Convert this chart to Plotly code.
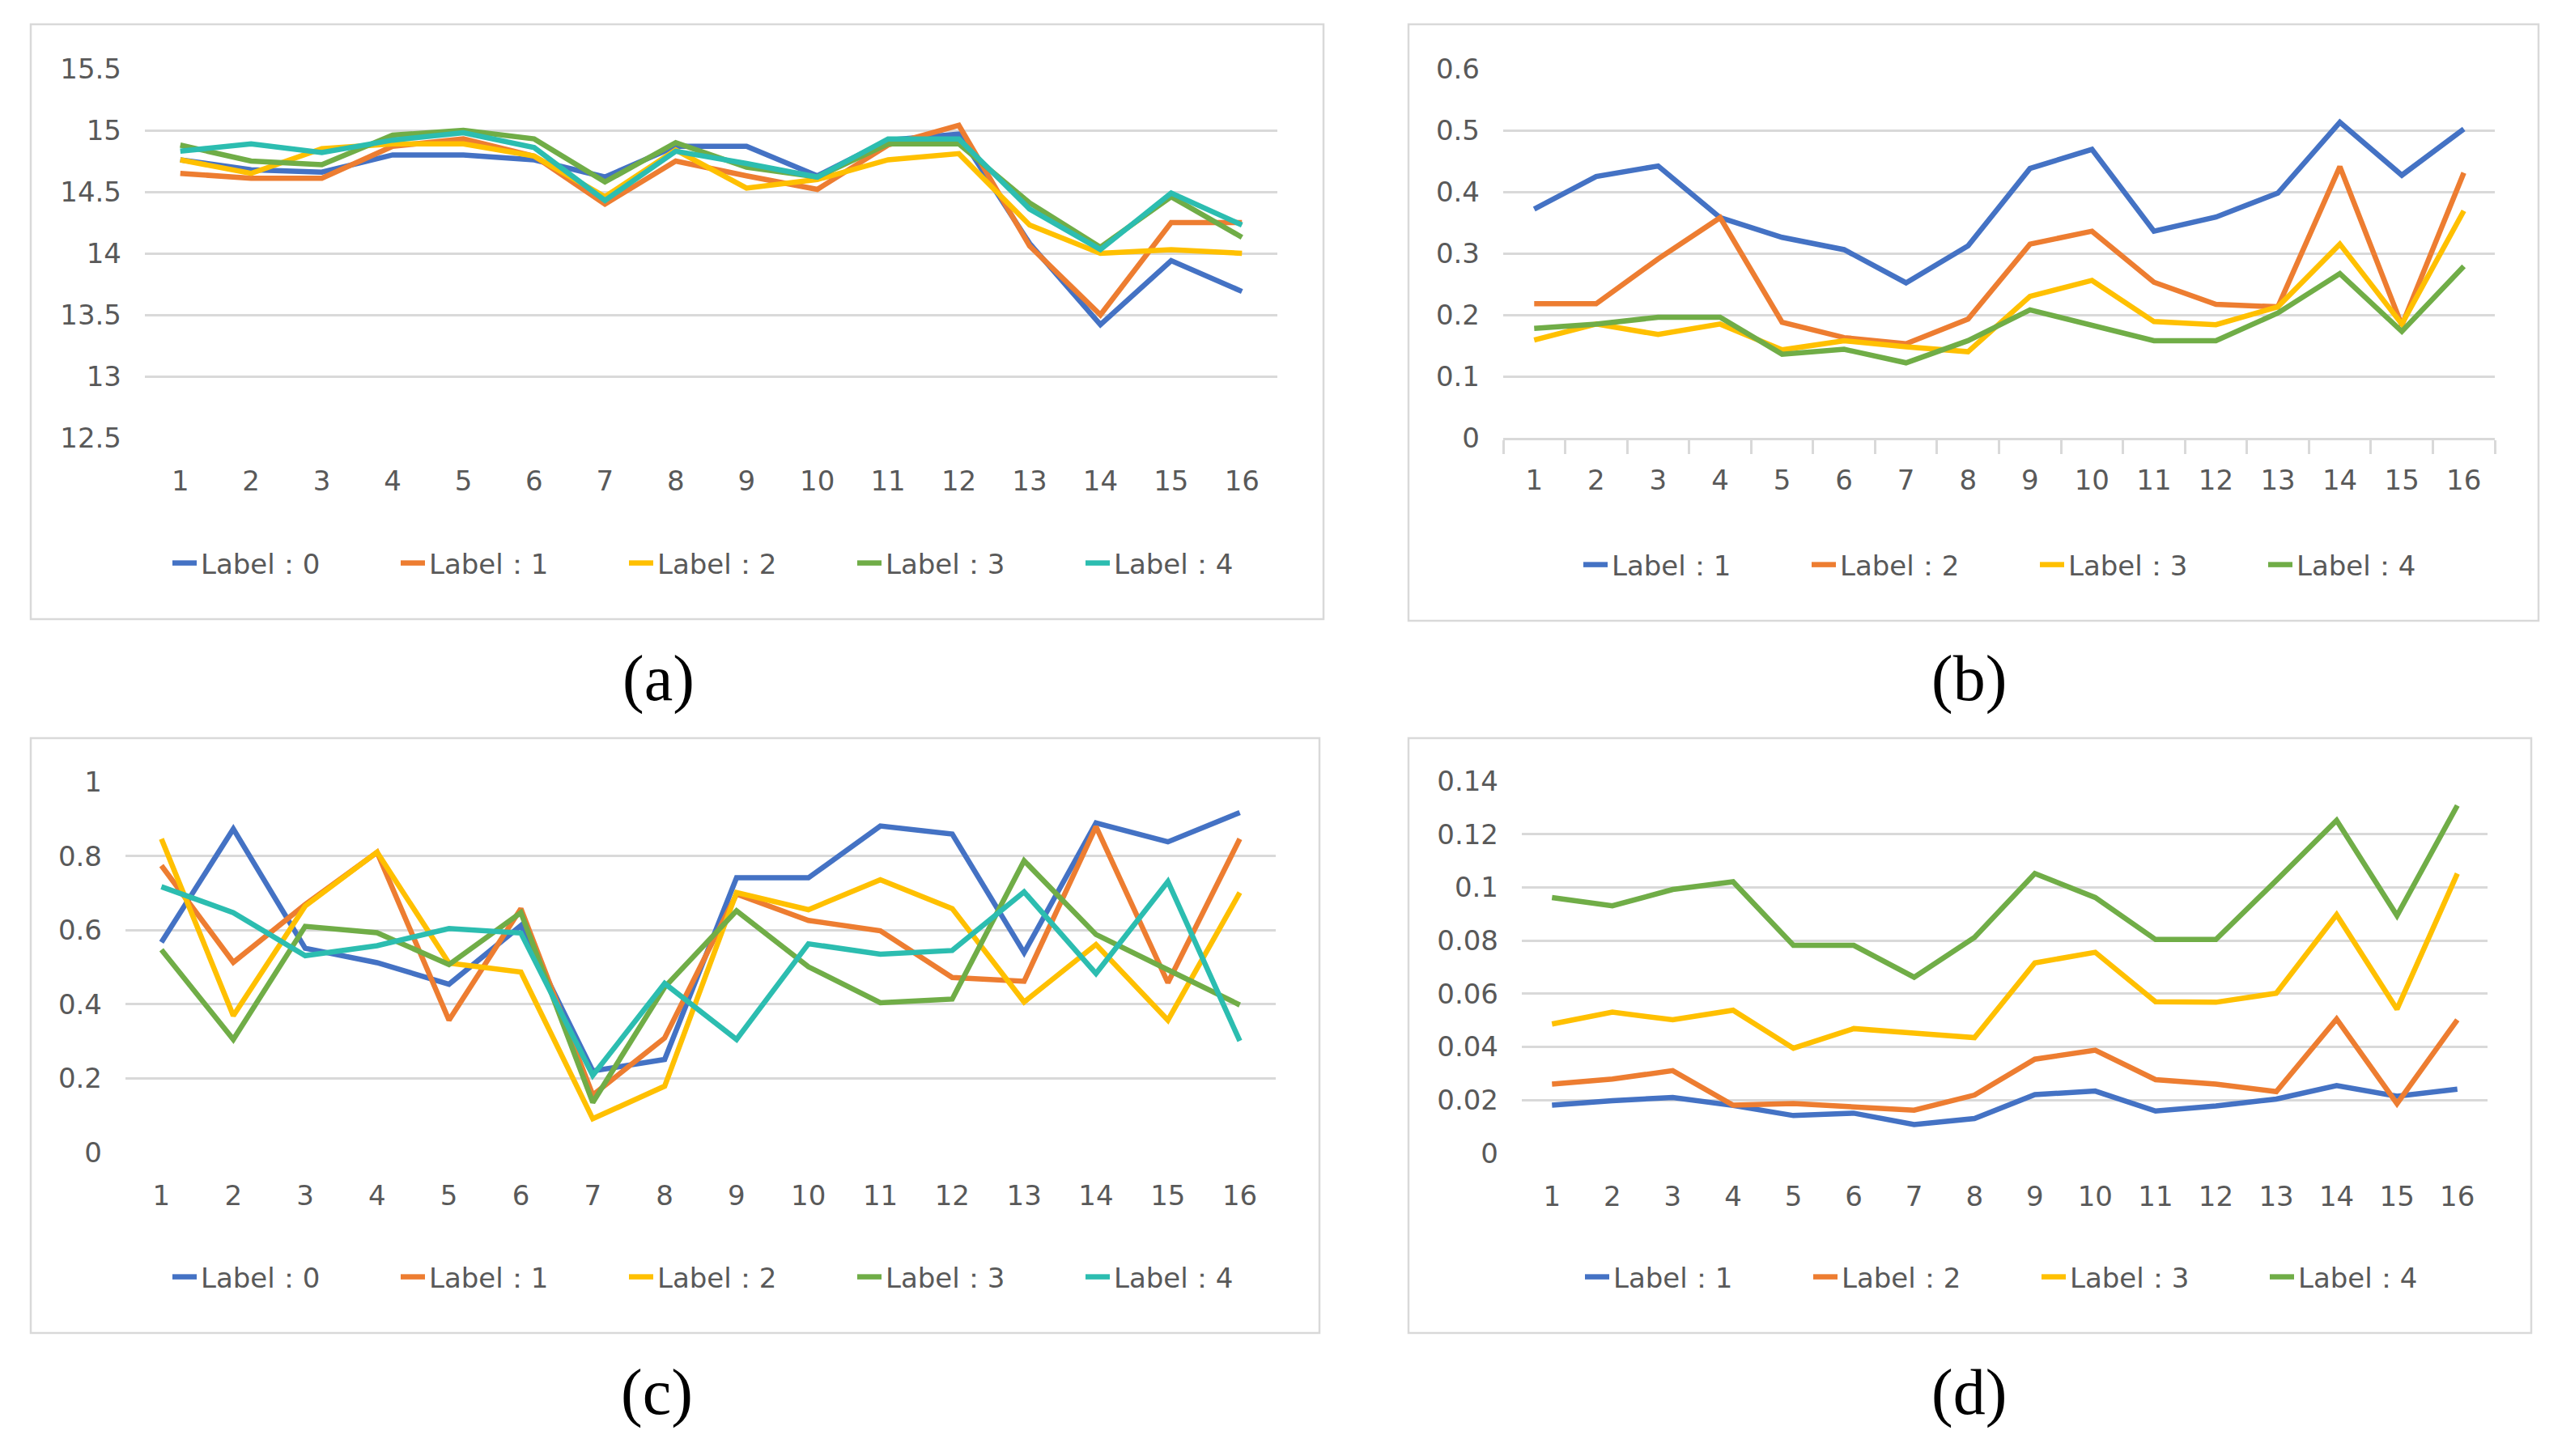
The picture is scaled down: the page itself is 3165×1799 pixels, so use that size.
import plotly.graph_objects as go

W, H = 3165, 1799

categories = [str(i) for i in range(1, 17)]

# Panel (a)
a_label0 = [14.76, 14.68, 14.66, 14.80, 14.80, 14.76, 14.62, 14.87, 14.87, 14.63, 14.92, 14.97, 14.08, 13.42, 13.94, 13.69]
a_label1 = [14.65, 14.61, 14.61, 14.87, 14.93, 14.79, 14.40, 14.75, 14.63, 14.52, 14.88, 15.04, 14.06, 13.50, 14.25, 14.25]
a_label2 = [14.76, 14.65, 14.85, 14.89, 14.89, 14.79, 14.46, 14.84, 14.53, 14.60, 14.76, 14.81, 14.23, 14.00, 14.03, 14.00]
a_label3 = [14.88, 14.75, 14.72, 14.96, 15.00, 14.93, 14.58, 14.90, 14.70, 14.62, 14.89, 14.89, 14.41, 14.05, 14.46, 14.13]
a_label4 = [14.83, 14.89, 14.82, 14.92, 14.98, 14.86, 14.43, 14.83, 14.73, 14.62, 14.93, 14.93, 14.36, 14.03, 14.49, 14.23]
a_ticks = [12.5, 13, 13.5, 14, 14.5, 15, 15.5]
a_ticktext = ["12.5", "13", "13.5", "14", "14.5", "15", "15.5"]

# Panel (b)
b_label1 = [0.372, 0.425, 0.442, 0.358, 0.326, 0.306, 0.252, 0.312, 0.438, 0.469, 0.336, 0.359, 0.398, 0.513, 0.427, 0.502]
b_label2 = [0.218, 0.218, 0.291, 0.358, 0.188, 0.163, 0.153, 0.193, 0.315, 0.336, 0.253, 0.217, 0.213, 0.441, 0.183, 0.431]
b_label3 = [0.159, 0.185, 0.168, 0.185, 0.143, 0.158, 0.148, 0.140, 0.230, 0.256, 0.189, 0.184, 0.213, 0.315, 0.185, 0.369]
b_label4 = [0.178, 0.185, 0.196, 0.196, 0.136, 0.144, 0.122, 0.158, 0.208, 0.183, 0.158, 0.158, 0.203, 0.267, 0.173, 0.279]
b_ticks = [0, 0.1, 0.2, 0.3, 0.4, 0.5, 0.6]
b_ticktext = ["0", "0.1", "0.2", "0.3", "0.4", "0.5", "0.6"]

# Panel (c)
c_label0 = [0.567, 0.873, 0.551, 0.512, 0.454, 0.612, 0.220, 0.251, 0.741, 0.741, 0.881, 0.859, 0.539, 0.889, 0.838, 0.917]
c_label1 = [0.774, 0.513, 0.669, 0.810, 0.357, 0.658, 0.155, 0.309, 0.697, 0.626, 0.598, 0.472, 0.462, 0.879, 0.458, 0.846]
c_label2 = [0.846, 0.369, 0.665, 0.810, 0.511, 0.487, 0.091, 0.179, 0.701, 0.655, 0.736, 0.658, 0.406, 0.561, 0.357, 0.701]
c_label3 = [0.547, 0.305, 0.610, 0.593, 0.507, 0.647, 0.135, 0.446, 0.652, 0.501, 0.404, 0.414, 0.787, 0.588, 0.493, 0.398]
c_label4 = [0.717, 0.647, 0.531, 0.558, 0.604, 0.592, 0.208, 0.456, 0.305, 0.563, 0.535, 0.545, 0.703, 0.483, 0.731, 0.301]
c_ticks = [0, 0.2, 0.4, 0.6, 0.8, 1]
c_ticktext = ["0", "0.2", "0.4", "0.6", "0.8", "1"]

# Panel (d)
d_label1 = [0.0181, 0.0198, 0.0210, 0.0180, 0.0142, 0.0151, 0.0108, 0.0131, 0.0221, 0.0234, 0.0159, 0.0178, 0.0204, 0.0255, 0.0215, 0.0241]
d_label2 = [0.0260, 0.0279, 0.0311, 0.0181, 0.0187, 0.0176, 0.0162, 0.0219, 0.0354, 0.0388, 0.0277, 0.0260, 0.0232, 0.0505, 0.0187, 0.0502]
d_label3 = [0.0486, 0.0531, 0.0502, 0.0538, 0.0395, 0.0469, 0.0452, 0.0435, 0.0716, 0.0756, 0.0570, 0.0568, 0.0602, 0.0897, 0.0542, 0.1052]
d_label4 = [0.0962, 0.0931, 0.0992, 0.1021, 0.0782, 0.0782, 0.0662, 0.0812, 0.1052, 0.0962, 0.0804, 0.0804, 0.1026, 0.1252, 0.0894, 0.1308]
d_ticks = [0, 0.02, 0.04, 0.06, 0.08, 0.1, 0.12, 0.14]
d_ticktext = ["0", "0.02", "0.04", "0.06", "0.08", "0.1", "0.12", "0.14"]

BLUE, ORANGE, GOLD, GREEN, TEAL = "#4472C4", "#ED7D31", "#FFC000", "#70AD47", "#2CBDB0"
TICKFONT = dict(family="DejaVu Sans", size=34, color="#595959")
GRID = "#D9D9D9"


def px(x):
    return x / W


def py(y):
    return 1 - y / H


fig = go.Figure()

panels = [
    ("", [a_label0, a_label1, a_label2, a_label3, a_label4], ["Label：0", "Label：1", "Label：2", "Label：3", "Label：4"],
     [BLUE, ORANGE, GOLD, GREEN, TEAL], "legend"),
    ("2", [b_label1, b_label2, b_label3, b_label4], ["Label：1", "Label：2", "Label：3", "Label：4"],
     [BLUE, ORANGE, GOLD, GREEN], "legend2"),
    ("3", [c_label0, c_label1, c_label2, c_label3, c_label4], ["Label：0", "Label：1", "Label：2", "Label：3", "Label：4"],
     [BLUE, ORANGE, GOLD, GREEN, TEAL], "legend3"),
    ("4", [d_label1, d_label2, d_label3, d_label4], ["Label：1", "Label：2", "Label：3", "Label：4"],
     [BLUE, ORANGE, GOLD, GREEN], "legend4"),
]

for suffix, series, names, colors, leg in panels:
    for vals, name, col in zip(series, names, colors):
        fig.add_trace(go.Scatter(
            x=categories, y=vals, name=name, mode="lines",
            line=dict(color=col, width=6.5),
            xaxis="x" + suffix, yaxis="y" + suffix, legend=leg,
        ))

# plot-area domains in pixels (left, right, top, bottom)
areas = {
    "": (179, 1578, 85, 541),
    "2": (1857, 3082, 85, 541),
    "3": (155, 1576, 966, 1424),
    "4": (1880, 3073, 965, 1425),
}
yspecs = {
    "": ([12.5, 15.5], a_ticks, a_ticktext),
    "2": ([0, 0.6], b_ticks, b_ticktext),
    "3": ([0, 1], c_ticks, c_ticktext),
    "4": ([0, 0.14], d_ticks, d_ticktext),
}

layout = dict(
    width=W, height=H, margin=dict(l=0, r=0, t=0, b=0, autoexpand=False),
    paper_bgcolor="white", plot_bgcolor="white",
    showlegend=True,
)

for suffix, (l, r, t, b) in areas.items():
    rng, tv, tt = yspecs[suffix]
    xa = dict(
        domain=[px(l), px(r)], anchor="y" + suffix, type="category",
        categoryorder="array", categoryarray=categories,
        range=[-0.5, len(categories) - 0.5], automargin=False,
        tickfont=TICKFONT, showgrid=False, zeroline=False,
        ticklabelstandoff=30, fixedrange=True,
    )
    if suffix == "2":
        xa.update(showline=True, linecolor=GRID, linewidth=2.5, ticks="outside",
                  tickson="boundaries", ticklen=17, tickwidth=2.5, tickcolor=GRID,
                  ticklabelstandoff=20)
    else:
        xa.update(showline=False, ticks="")
    ya = dict(
        domain=[py(b), py(t)], anchor="x" + suffix, range=rng, automargin=False,
        tickmode="array", tickvals=tv, ticktext=tt,
        tickfont=TICKFONT, showgrid=True, gridcolor=GRID, gridwidth=2.5,
        zeroline=False, showline=False, ticks="", ticklabelstandoff=28,
        fixedrange=True,
    )
    layout["xaxis" + suffix] = xa
    layout["yaxis" + suffix] = ya

legfont = dict(family="DejaVu Sans", size=34, color="#595959")
for key, (cx, cy) in {"legend": (913, 696), "legend2": (2515, 698),
                      "legend3": (913, 1578), "legend4": (2517, 1578)}.items():
    layout[key] = dict(
        orientation="h", x=px(cx), y=py(cy), xanchor="center", yanchor="middle",
        font=legfont, bgcolor="rgba(0,0,0,0)", itemwidth=30,
        entrywidth=237, entrywidthmode="pixels", tracegroupgap=0,
    )

# panel frames
frames = [(38, 1635, 30, 765), (1740, 3136, 30, 767), (38, 1630, 912, 1647), (1740, 3127, 912, 1647)]
shapes = []
for l, r, t, b in frames:
    shapes.append(dict(type="rect", xref="paper", yref="paper",
                       x0=px(l), x1=px(r), y0=py(b), y1=py(t),
                       line=dict(color=GRID, width=2.5), fillcolor="rgba(0,0,0,0)", layer="below"))
layout["shapes"] = shapes

annotations = []
for txt, (cx, cy) in [("(a)", (813, 838)), ("(b)", (2432, 838)), ("(c)", (811, 1720)), ("(d)", (2432, 1720))]:
    annotations.append(dict(text=txt, x=px(cx), y=py(cy), xref="paper", yref="paper",
                            xanchor="center", yanchor="middle", showarrow=False,
                            font=dict(family="Liberation Serif", size=80, color="black")))
layout["annotations"] = annotations

fig.update_layout(**layout)
fig.write_html(
    "out.html",
    config={"displayModeBar": False},
    post_script="document.body.style.margin='0';document.documentElement.style.overflow='hidden';document.body.style.overflow='hidden';",
)
